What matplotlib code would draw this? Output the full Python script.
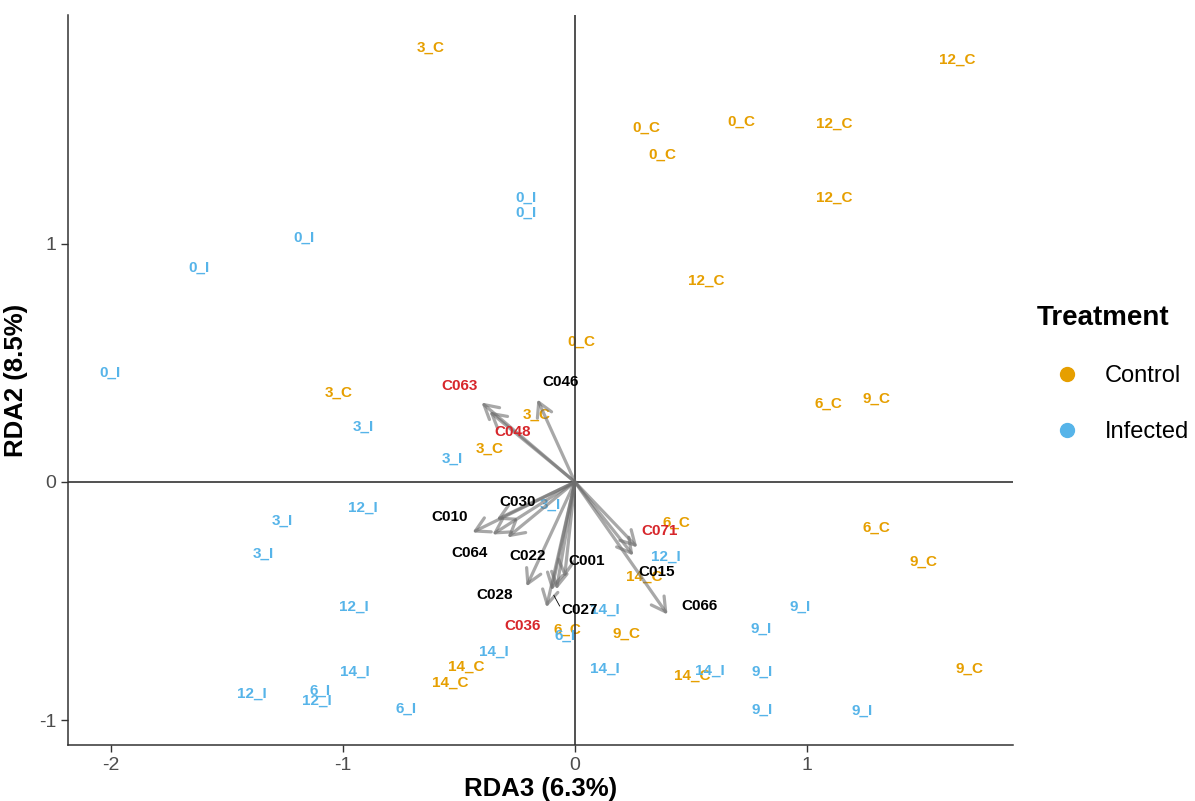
import matplotlib
matplotlib.use('Agg')
import matplotlib.pyplot as plt
from matplotlib.patches import FancyArrowPatch
from matplotlib.lines import Line2D

plt.rcParams['font.family'] = ['Liberation Sans', 'DejaVu Sans']

# site scores - Control
ctrl_lab = ['0_C', '0_C', '0_C', '0_C',
            '3_C', '3_C', '3_C', '3_C',
            '6_C', '6_C', '6_C', '6_C',
            '9_C', '9_C', '9_C', '9_C',
            '12_C', '12_C', '12_C', '12_C',
            '14_C', '14_C', '14_C', '14_C']
ctrl_x = [0.308, 0.718, 0.377, 0.028,
          -0.623, -1.019, -0.166, -0.369,
          1.093, 0.438, 1.300, -0.032,
          1.300, 1.502, 0.222, 1.700,
          1.649, 1.119, 1.119, 0.567,
          0.300, -0.468, -0.537, 0.506]
ctrl_y = [1.489, 1.515, 1.376, 0.590,
          1.826, 0.376, 0.284, 0.141,
          0.330, -0.170, -0.191, -0.620,
          0.351, -0.334, -0.637, -0.784,
          1.775, 1.506, 1.195, 0.847,
          -0.397, -0.775, -0.842, -0.813]

# site scores - Infected
inf_lab = ['0_I', '0_I', '0_I', '0_I', '0_I',
           '3_I', '3_I', '3_I', '3_I', '3_I',
           '6_I', '6_I', '6_I',
           '9_I', '9_I', '9_I', '9_I', '9_I',
           '12_I', '12_I', '12_I', '12_I', '12_I',
           '14_I', '14_I', '14_I', '14_I', '14_I']
inf_x = [-0.209, -0.209, -1.166, -1.619, -2.002,
         -0.912, -0.528, -1.261, -1.343, -0.106,
         -1.097, -0.726, -0.041,
         0.972, 0.804, 0.808, 0.808, 1.239,
         -0.916, 0.394, -0.955, -1.394, -1.114,
         0.131, -0.351, 0.127, -0.950, 0.580]
inf_y = [1.195, 1.132, 1.027, 0.901, 0.460,
         0.233, 0.099, -0.162, -0.300, -0.095,
         -0.876, -0.952, -0.645,
         -0.523, -0.616, -0.796, -0.956, -0.960,
         -0.107, -0.313, -0.523, -0.889, -0.918,
         -0.536, -0.712, -0.784, -0.796, -0.792]

# species arrows (tips) and repelled label positions
sp_name = ['C063', 'C048', 'C046', 'C030', 'C010', 'C064', 'C022',
           'C028', 'C036', 'C027', '', 'C001', 'C071', 'C015', 'C066']
sp_x = [-0.403, -0.369, -0.162, -0.338, -0.442, -0.356, -0.291,
        -0.209, -0.123, -0.101, -0.080, -0.045, 0.269, 0.252, 0.399]
sp_y = [0.334, 0.296, 0.347, -0.158, -0.212, -0.221, -0.233,
        -0.439, -0.527, -0.456, -0.452, -0.401, -0.275, -0.309, -0.557]
lab_x = [-0.498, -0.269, -0.063, -0.248, -0.541, -0.455, -0.205,
         -0.347, -0.226, 0.019, 0.0, 0.050, 0.364, 0.351, 0.537]
lab_y = [0.405, 0.212, 0.418, -0.082, -0.145, -0.300, -0.313,
         -0.473, -0.607, -0.536, 0.0, -0.334, -0.204, -0.380, -0.519]
red_species = ['C063', 'C048', 'C036', 'C071']

col_ctrl = '#E69F00'
col_inf = '#56B4E9'
col_red = '#D7262B'

fig = plt.figure(figsize=(11.95, 8.01), dpi=100)
ax = fig.add_axes([0.0569, 0.0699, 0.7908, 0.9114])

ax.set_xlim(-2.185, 1.888)
ax.set_ylim(-1.105, 1.962)

for lab, x, y in zip(ctrl_lab, ctrl_x, ctrl_y):
    ax.text(x, y, lab, color=col_ctrl, fontsize=11, fontweight='bold',
            ha='center', va='center', zorder=2)
for lab, x, y in zip(inf_lab, inf_x, inf_y):
    ax.text(x, y, lab, color=col_inf, fontsize=11, fontweight='bold',
            ha='center', va='center', zorder=2)

# zero lines
ax.axhline(0, color='#333333', lw=1.2, zorder=3)
ax.axvline(0, color='#333333', lw=1.2, zorder=3)

# arrows
for x, y in zip(sp_x, sp_y):
    arr = FancyArrowPatch((0, 0), (x, y),
                          arrowstyle='->,head_length=0.5,head_width=0.28',
                          mutation_scale=20, color='#6E6E6E', alpha=0.6,
                          lw=2.3, shrinkA=0, shrinkB=0, zorder=4)
    ax.add_patch(arr)

for name, x, y, lx, ly in zip(sp_name, sp_x, sp_y, lab_x, lab_y):
    if name == '':
        continue
    c = col_red if name in red_species else 'black'
    ax.text(lx, ly, name, color=c, fontsize=11, fontweight='bold',
            ha='center', va='center', zorder=5)
    if name == 'C027':
        # repel segment
        ax.plot([x + 0.01, x + 0.035], [y - 0.02, y - 0.065],
                color='black', lw=0.6, zorder=5)

# classic theme
for s in ['top', 'right']:
    ax.spines[s].set_visible(False)
for s in ['left', 'bottom']:
    ax.spines[s].set_color('#333333')
    ax.spines[s].set_linewidth(1.1)
ax.set_xticks([-2, -1, 0, 1])
ax.set_yticks([-1, 0, 1])
ax.set_xticklabels(['-2', '-1', '0', '1'])
ax.set_yticklabels(['-1', '0', '1'])
ax.tick_params(length=5, width=1, color='#333333', labelsize=14,
               labelcolor='#4D4D4D')
ax.set_xlabel('RDA3 (6.3%)', fontsize=18.5, fontweight='bold', labelpad=2)
ax.set_ylabel('RDA2 (8.5%)', fontsize=18.5, fontweight='bold', labelpad=8)

handles = [Line2D([], [], marker='o', ls='', color=col_ctrl, markersize=10),
           Line2D([], [], marker='o', ls='', color=col_inf, markersize=10)]
leg = fig.legend(handles, ['Control', 'Infected'], title='Treatment',
                 loc='center left', bbox_to_anchor=(0.8575, 0.533),
                 frameon=False, fontsize=17, labelspacing=1.45,
                 handlelength=2.55, handletextpad=0.35, borderpad=0,
                 alignment='left',
                 title_fontproperties={'weight': 'bold', 'size': 20})

fig.savefig('out.png', dpi=100)
